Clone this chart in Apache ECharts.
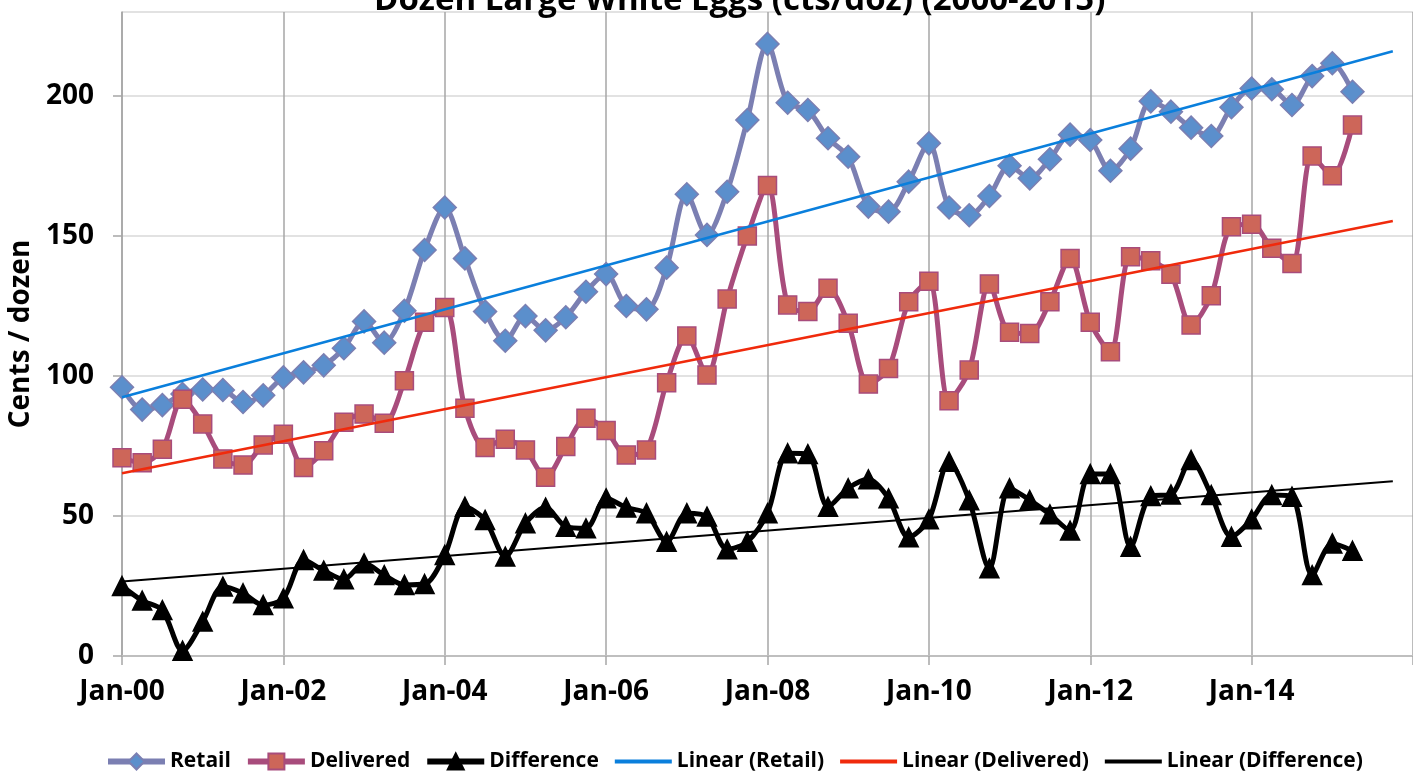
<!DOCTYPE html>
<html>
<head>
<meta charset="utf-8">
<script src="https://cdn.jsdelivr.net/npm/echarts@6/dist/echarts.min.js"></script>
<style>
  html, body { margin: 0; padding: 0; background: #fff; }
  #main { width: 1413px; height: 777px; }
</style>
</head>
<body>
<div id="main"></div>
<script>
  // quarterly readings, Jan-00 .. Apr-15 (cents / dozen)
  const startYear = 2000
  const stepMonths = 3
  const retail = [96, 88, 89.6, 93.6, 95.2, 95, 90.7, 93.1, 99.5, 101.3,
    103.8, 109.9, 119.5, 111.9, 123.3, 145, 160.2, 142, 123, 112.6,
    121.4, 116.3, 121, 130.1, 136.4, 125, 123.8, 138.7, 164.9, 150.4,
    165.8, 191.4, 218.6, 197.6, 195, 184.9, 178.3, 160.5, 158.7, 169.4,
    183.1, 160.2, 157.4, 164.3, 175.1, 170.6, 177.4, 186.2, 184.3, 173.3,
    181.2, 198.1, 194.4, 188.7, 185.7, 196, 202.7, 202.4, 196.8, 207.1,
    211.7, 201.5]
  const delivered = [70.8, 69, 73.8, 91.7, 82.9, 70.4, 68.2, 75.4, 79.2, 67.3,
    73.3, 83.5, 86.4, 83.1, 98.3, 119.2, 124.5, 88.5, 74.5, 77.4,
    73.6, 63.8, 74.8, 84.9, 80.5, 71.8, 73.6, 97.6, 114.3, 100.4,
    127.5, 150, 168, 125.4, 123, 131.3, 118.8, 97.1, 102.7, 126.5,
    133.8, 91.2, 102.1, 132.9, 115.6, 115.2, 126.5, 142, 119.2, 108.7,
    142.6, 141.2, 136.3, 118.2, 128.7, 153.3, 154.2, 145.6, 140.2, 178.6,
    171.5, 189.6]
  const difference = [25, 19.8, 16.4, 1.9, 12.3, 24.8, 22.4, 18.2, 20.6, 34.3,
    30.5, 27.4, 33.1, 28.9, 25.4, 25.7, 36.1, 53.3, 48.6, 35.5,
    47.4, 53, 46.2, 45.6, 56.3, 53, 51, 40.8, 51, 49.8,
    38.1, 40.8, 51, 72.4, 72.1, 53.3, 59.9, 63.1, 56.3, 42.4,
    48.8, 69.4, 55.6, 31.3, 59.9, 55.7, 50.6, 44.8, 65, 65,
    39, 57.1, 57.7, 70, 57.5, 42.6, 48.8, 57.5, 56.9, 28.9,
    40.2, 37.6]
  const tickLabels = ['Jan-00', 'Jan-02', 'Jan-04', 'Jan-06', 'Jan-08', 'Jan-10', 'Jan-12', 'Jan-14']
  const forecastMonths = 6

  const font = 'Open Sans'

  function toPoints(arr) {
    return arr.map((v, i) => [i * stepMonths, v])
  }

  // excel style linear trendline, extended forward
  function trend(arr) {
    let pts = toPoints(arr)
    let n = pts.length, sx = 0, sy = 0, sxx = 0, sxy = 0
    pts.forEach(p => { sx += p[0]; sy += p[1]; sxx += p[0] * p[0]; sxy += p[0] * p[1] })
    let b = (n * sxy - sx * sy) / (n * sxx - sx * sx)
    let a = (sy - b * sx) / n
    let x1 = pts[n - 1][0] + forecastMonths
    return [[0, a], [x1, a + b * x1]]
  }

  function dataSeries(name, arr, symbol, size, lineColor, fill, border) {
    return {
      name: name,
      type: 'line',
      data: toPoints(arr),
      smooth: 0.3,
      symbol: symbol,
      symbolSize: size,
      lineStyle: { color: lineColor, width: 5 },
      itemStyle: { color: fill, borderColor: border, borderWidth: 1.5 },
      z: 2
    }
  }

  function trendSeries(name, arr, color, width) {
    return {
      name: name,
      type: 'line',
      data: trend(arr),
      symbol: 'none',
      lineStyle: { color: color, width: width },
      itemStyle: { color: color },
      z: 3
    }
  }

  let myechart = echarts.init(document.getElementById('main'))
  let option = {
    animation: false,
    textStyle: { fontFamily: font },
    title: {
      text: 'Dozen Large White Eggs (cts/doz) (2000-2015)',
      left: 369,
      top: -21,
      textStyle: { fontFamily: font, fontSize: 33, fontWeight: 'bold', color: '#000' }
    },
    legend: {
      bottom: 0,
      left: 100,
      width: 1310,
      itemWidth: 57,
      itemHeight: 20,
      itemGap: 14,
      textStyle: { fontFamily: font, fontSize: 21, fontWeight: 'bold', color: '#000' },
      data: [
        { name: 'Retail', lineStyle: { width: 6 } },
        { name: 'Delivered', lineStyle: { width: 6 } },
        { name: 'Difference', lineStyle: { width: 6 } },
        { name: 'Linear (Retail)', itemStyle: { opacity: 0 }, lineStyle: { width: 4 } },
        { name: 'Linear (Delivered)', itemStyle: { opacity: 0 }, lineStyle: { width: 4 } },
        { name: 'Linear (Difference)', itemStyle: { opacity: 0 }, lineStyle: { width: 4 } }
      ]
    },
    grid: { left: 122, right: 0, top: 12, bottom: 121, outerBoundsMode: 'none' },
    xAxis: {
      type: 'value',
      min: 0,
      max: 192,
      interval: 24,
      axisLine: { onZero: false, lineStyle: { color: '#bfbfbf', width: 2 } },
      axisTick: { length: 9, lineStyle: { color: '#a6a6a6', width: 1.5 } },
      splitLine: { show: true, lineStyle: { color: '#a6a6a6', width: 1.5 } },
      axisLabel: {
        margin: 22,
        color: '#000',
        fontFamily: font,
        fontSize: 28,
        fontWeight: 'bold',
        formatter: v => tickLabels[v / 24] || ''
      }
    },
    yAxis: {
      type: 'value',
      min: 0,
      max: 230,
      interval: 50,
      name: 'Cents / dozen',
      nameLocation: 'middle',
      nameGap: 84,
      nameRotate: 90,
      nameTextStyle: { fontFamily: font, fontSize: 28, fontWeight: 'bold', color: '#000' },
      axisLine: { show: true, lineStyle: { color: '#a6a6a6', width: 1.5 } },
      axisTick: { show: true, length: 9, lineStyle: { color: '#a6a6a6', width: 1.5 } },
      splitLine: { lineStyle: { color: '#d9d9d9', width: 1.5 } },
      axisLabel: {
        margin: 28,
        color: '#000',
        fontFamily: font,
        fontSize: 28,
        fontWeight: 'bold',
        showMaxLabel: false
      }
    },
    series: [
      dataSeries('Retail', retail, 'diamond', 23, '#7b7fb2', '#5b8fcc', '#7b7fb2'),
      dataSeries('Delivered', delivered, 'rect', 18, '#a84c7c', '#cd6659', '#a84c7c'),
      dataSeries('Difference', difference, 'triangle', 19, '#000000', '#000000', '#000000'),
      trendSeries('Linear (Retail)', retail, '#0a7fdc', 2.5),
      trendSeries('Linear (Delivered)', delivered, '#f02a0c', 2.5),
      trendSeries('Linear (Difference)', difference, '#000000', 2)
    ]
  }
  myechart.setOption(option)
</script>
</body>
</html>
